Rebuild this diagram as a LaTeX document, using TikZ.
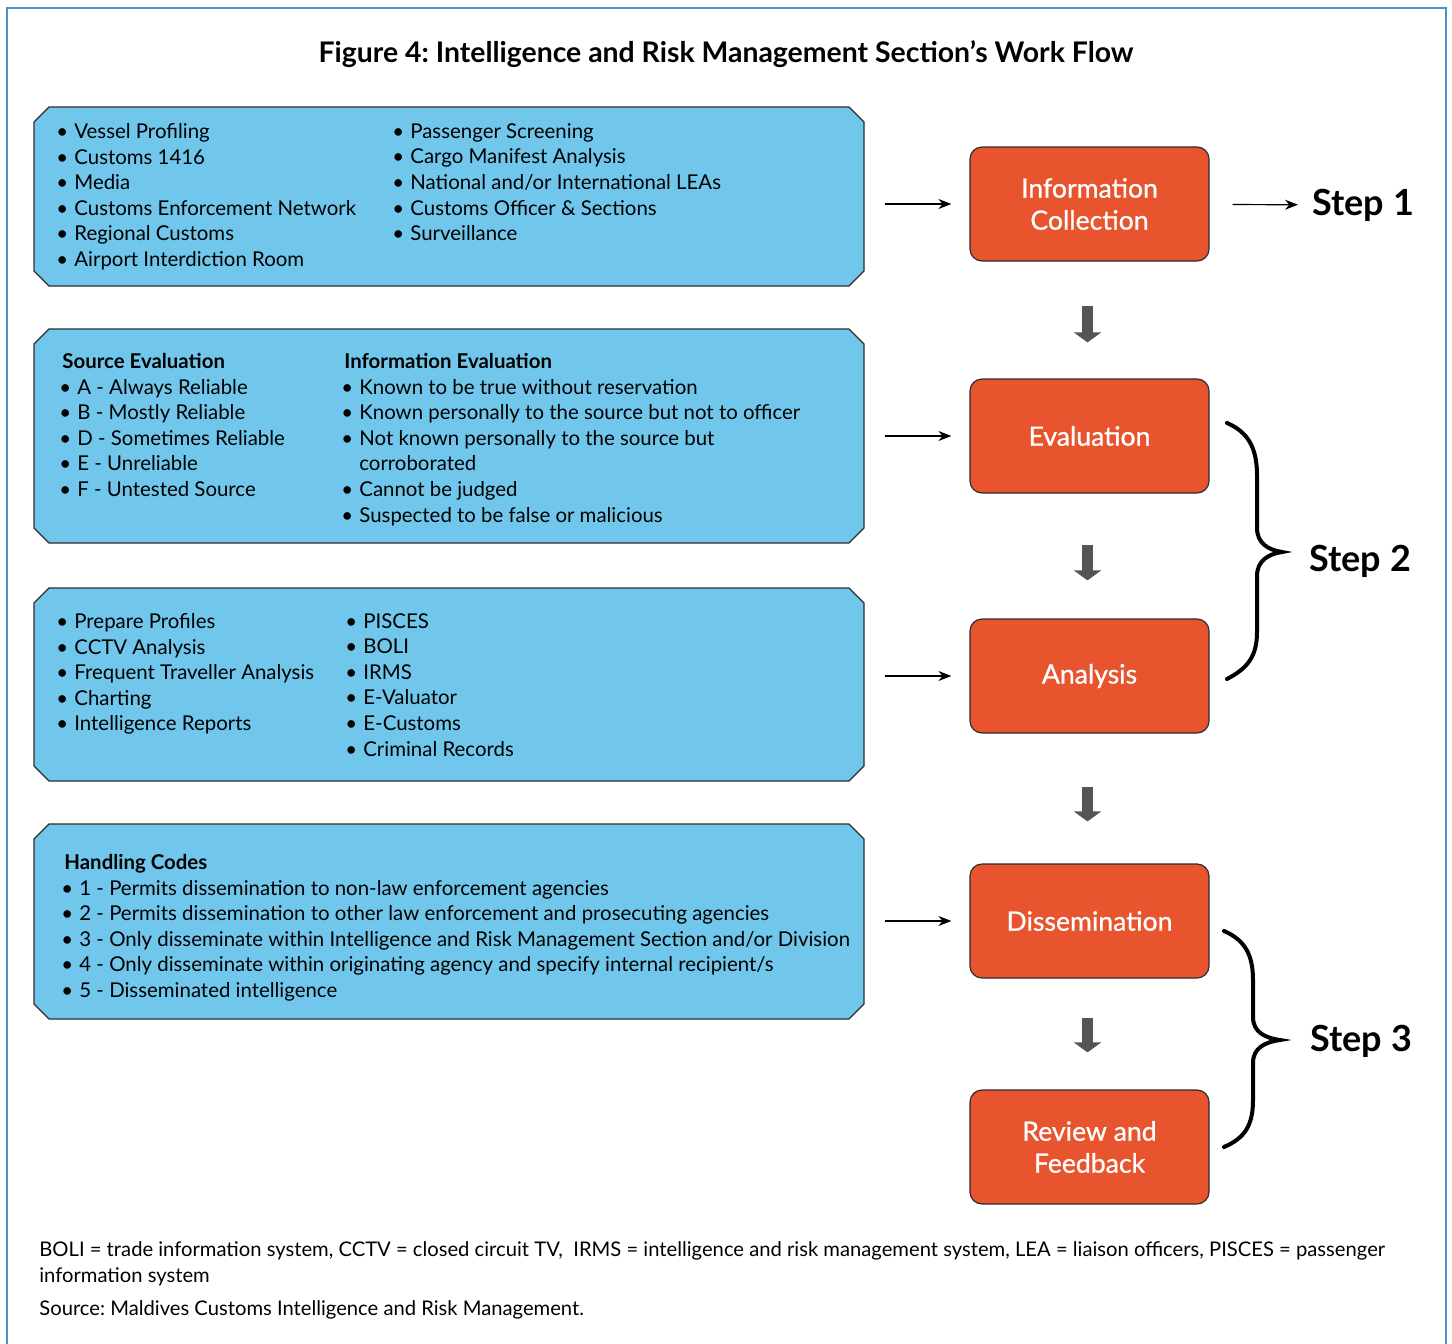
\documentclass[tikz,border=0pt]{standalone}
\usepackage{fontspec}
\setmainfont{Lato}
\newfontfamily\stagefont[FakeBold=0.8]{Lato}
\usetikzlibrary{arrows.meta}
\definecolor{frameblue}{RGB}{74,145,197}
\definecolor{listblue}{RGB}{112,199,235}
\definecolor{steporange}{RGB}{232,84,45}
\definecolor{arrowgray}{RGB}{85,85,85}
\definecolor{edgegray}{RGB}{45,45,45}
\tikzset{%
  listbox/.style={rectangle, minimum width=415pt, inner sep=0pt, outer sep=0pt},% place of a blue box
  listframe/.style={draw=edgegray, line width=0.6pt, fill=listblue},% blue box with cut corners
  listtext/.style={anchor=north west, align=left, inner sep=0pt,
    font=\fontsize{10.2pt}{12.8pt}\selectfont},% lines inside a blue box
  stage/.style={draw=edgegray, line width=0.6pt, fill=steporange, rounded corners=6pt,
    minimum width=119.5pt, minimum height=57pt, align=center, text=white,
    font=\stagefont\fontsize{13.3pt}{16pt}\selectfont},% orange work-flow stage
  feed/.style={-{Stealth[length=6.5pt,width=5pt]}, line width=0.6pt},% thin black arrow
  downarrow/.style={-{Triangle[length=5pt,width=13.5pt]}, line width=5.4pt, draw=arrowgray},% gray block arrow
  steplabel/.style={font=\bfseries\fontsize{18pt}{20pt}\selectfont, inner sep=0pt},
  curly/.style={line width=2pt, line cap=round}
}
\newcommand*{\itm}{\makebox[7.5pt][l]{\hspace{-1.5pt}\textbullet}}
\newcommand*{\cutbox}[1]{%
  \draw[listframe] ([xshift=7.5pt]#1.north west) -- ([xshift=-7.5pt]#1.north east)
    -- ([yshift=-7.5pt]#1.north east) -- ([yshift=7.5pt]#1.south east)
    -- ([xshift=-7.5pt]#1.south east) -- ([xshift=7.5pt]#1.south west)
    -- ([yshift=7.5pt]#1.south west) -- ([yshift=-7.5pt]#1.north west) -- cycle;}
\frenchspacing
\begin{document}
\begin{tikzpicture}[x=0.5pt, y=-0.5pt]
\useasboundingbox (0,0) rectangle (1452,1344);
\draw[frameblue, line width=1pt] (6.5,1344) -- (6.5,8) -- (1445.5,8) -- (1445.5,1344);
\node[font=\bfseries\fontsize{14.2pt}{16pt}\selectfont] (title) at (726,54)
  {Figure 4: Intelligence and Risk Management Section’s Work Flow};

% blue boxes
\node[listbox, minimum height=89.5pt] (b1) at (449,196.5) {};
\node[listbox, minimum height=107pt] (b2) at (449,436) {};
\node[listbox, minimum height=96.5pt] (b3) at (449,684.5) {};
\node[listbox, minimum height=97.5pt] (b4) at (449,921.5) {};
\cutbox{b1}
\cutbox{b2}
\cutbox{b3}
\cutbox{b4}

\node[listtext] (b1l) at (59,123) {\itm Vessel Profiling\\\itm Customs 1416\\\itm Media\\
  \itm Customs Enforcement Network\\\itm Regional Customs\\\itm Airport Interdiction Room};
\node[listtext] (b1r) at (395,123) {\itm Passenger Screening\\\itm Cargo Manifest Analysis\\
  \itm National and/or International LEAs\\\itm Customs Officer \& Sections\\\itm Surveillance};

\node[listtext] (b2l) at (62,353) {\textbf{Source Evaluation}\\\itm A - Always Reliable\\
  \itm B - Mostly Reliable\\\itm D - Sometimes Reliable\\\itm E - Unreliable\\\itm F - Untested Source};
\node[listtext] (b2r) at (344,353) {\textbf{Information Evaluation}\\
  \itm Known to be true without reservation\\
  \itm Known personally to the source but not to officer\\
  \itm Not known personally to the source but\\\phantom{\itm}corroborated\\
  \itm Cannot be judged\\\itm Suspected to be false or malicious};

\node[listtext] (b3l) at (59,613) {\itm Prepare Profiles\\\itm CCTV Analysis\\
  \itm Frequent Traveller Analysis\\\itm Charting\\\itm Intelligence Reports};
\node[listtext] (b3r) at (348,613) {\itm PISCES\\\itm BOLI\\\itm IRMS\\\itm E-Valuator\\
  \itm E-Customs\\\itm Criminal Records};

\node[listtext] (b4l) at (64,854) {\textbf{Handling Codes}\\
  \itm 1 - Permits dissemination to non-law enforcement agencies\\
  \itm 2 - Permits dissemination to other law enforcement and prosecuting agencies\\
  \itm 3 - Only disseminate within Intelligence and Risk Management Section and/or Division\\
  \itm 4 - Only disseminate within originating agency and specify internal recipient/s\\
  \itm 5 - Disseminated intelligence};

% work-flow stages
\node[stage] (ic) at (1089.5,204) {Information\\Collection};
\node[stage] (ev) at (1089.5,436) {Evaluation};
\node[stage] (an) at (1089.5,676) {Analysis};
\node[stage] (ds) at (1089.5,921) {Dissemination};
\node[stage] (rf) at (1089.5,1147) {Review and\\Feedback};

\draw[feed, shorten <=10.5pt, shorten >=9pt] (b1.east |- ic) -- (ic);
\draw[feed, shorten <=10.5pt, shorten >=9pt] (b2.east |- ev) -- (ev);
\draw[feed, shorten <=10.5pt, shorten >=9pt] (b3.east |- an) -- (an);
\draw[feed, shorten <=10.5pt, shorten >=9pt] (b4.east |- ds) -- (ds);

\draw[downarrow, shorten <=22pt, shorten >=18pt] ([xshift=-1pt]ic.south) -- ([xshift=-1pt]ev.north);
\draw[downarrow, shorten <=25.5pt, shorten >=19pt] ([xshift=-1pt]ev.south) -- ([xshift=-1pt]an.north);
\draw[downarrow, shorten <=26.5pt, shorten >=21pt] ([xshift=-1pt]an.south) -- ([xshift=-1pt]ds.north);
\draw[downarrow, shorten <=19.5pt, shorten >=18.5pt] ([xshift=-1pt]ds.south) -- ([xshift=-1pt]rf.north);

% steps
\node[steplabel, anchor=west] (s1) at (1312,205) {Step 1};
\node[steplabel, anchor=west] (s2) at (1309,561) {Step 2};
\node[steplabel, anchor=west] (s3) at (1310,1041) {Step 3};
\draw[feed, shorten <=11.5pt, shorten >=7pt] (ic) -- (s1);
\draw[curly] (1227,423) .. controls (1248,432) and (1257,448) .. (1257,475)
  -- (1257,528) .. controls (1257,543) and (1268,550) .. (1282,552)
  .. controls (1268,554) and (1257,561) .. (1257,576)
  -- (1257,632) .. controls (1257,656) and (1248,668) .. (1227,679);
\draw[curly] (1224,931) .. controls (1245,940) and (1253,955) .. (1253,980)
  -- (1253,1017) .. controls (1253,1032) and (1265,1038) .. (1280,1040)
  .. controls (1265,1042) and (1253,1048) .. (1253,1063)
  -- (1253,1100) .. controls (1253,1125) and (1245,1138) .. (1224,1147);

% notes
\node[listtext, font=\fontsize{10.1pt}{13pt}\selectfont] (notes) at (39,1241)
  {BOLI = trade information system, CCTV = closed circuit TV,~ IRMS = intelligence and risk management system, LEA = liaison officers, PISCES = passenger\\information system};
\node[listtext, font=\fontsize{10.1pt}{13pt}\selectfont] (source) at (39,1300)
  {Source: Maldives Customs Intelligence and Risk Management.};
\end{tikzpicture}
\end{document}
